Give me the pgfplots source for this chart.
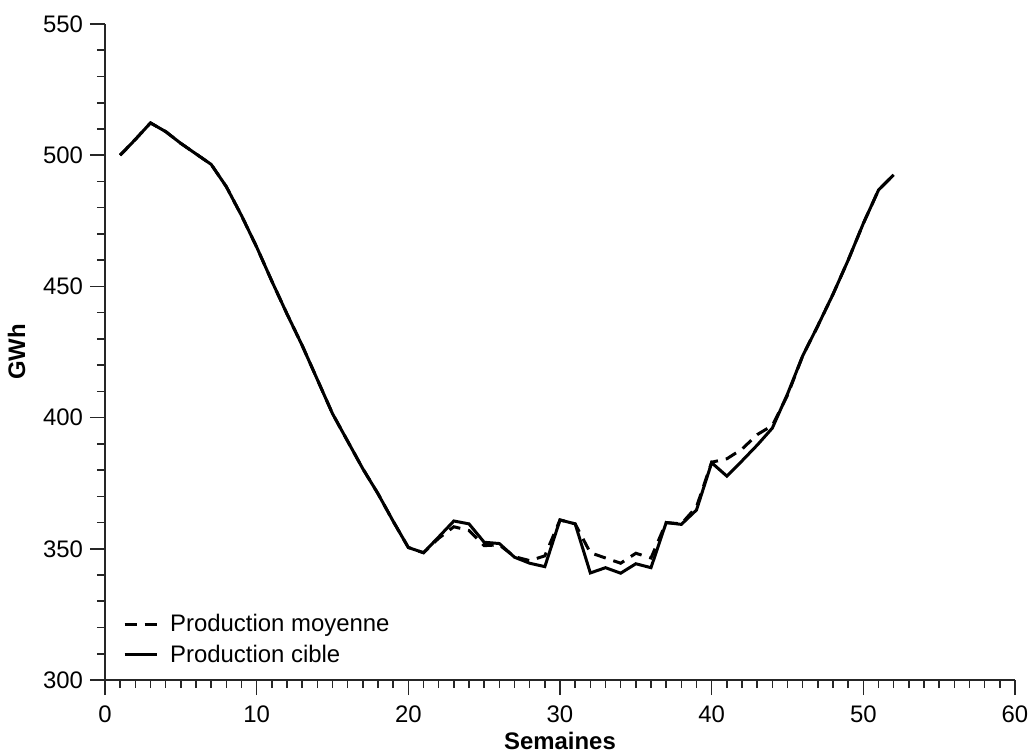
\documentclass[border=0pt]{standalone}
\usepackage{fontspec}
\setmainfont{Liberation Sans}
\usepackage{pgfplots}
\pgfplotsset{compat=1.18}
\usepackage{pgfplotstable}

% Weekly production (GWh): target and mean
\pgfplotstableread{
semaine cible moyenne
1  500.0 500.0
2  506.0 506.0
3  512.3 512.3
4  509.0 509.0
5  504.5 504.5
6  500.5 500.5
7  496.5 496.5
8  488.0 488.0
9  477.0 477.0
10 465.0 465.0
11 452.0 452.0
12 439.5 439.5
13 427.5 427.5
14 414.5 414.5
15 401.5 401.5
16 391.0 391.0
17 380.5 380.5
18 371.0 371.0
19 360.5 360.5
20 350.5 350.5
21 348.5 348.5
22 354.5 354.0
23 360.6 358.4
24 359.5 357.0
25 352.5 351.2
26 352.0 351.5
27 346.8 347.0
28 344.5 345.5
29 343.2 347.3
30 361.0 361.0
31 359.5 359.5
32 340.8 348.5
33 342.8 346.5
34 340.7 344.5
35 344.3 348.3
36 342.8 346.5
37 360.0 360.0
38 359.3 359.5
39 364.8 366.0
40 382.8 383.0
41 377.7 384.3
42 383.5 388.0
43 389.5 393.5
44 396.0 397.0
45 409.0 408.5
46 423.5 423.5
47 435.0 435.0
48 447.0 447.0
49 460.0 460.0
50 474.0 474.0
51 486.7 486.7
52 492.5 492.5
}\prod

\begin{document}
\begin{tikzpicture}
\useasboundingbox (-52.5bp,-36.5bp) rectangle (463bp,340bp);
\begin{axis}[
  scale only axis,
  width=455bp, height=328bp,
  xmin=0, xmax=60, ymin=300, ymax=550,
  axis x line=bottom, axis y line=left,
  axis line style={-, line width=1bp, black!85},
  xtick distance=10, ytick distance=50,
  minor x tick num=9, minor y tick num=4,
  tick align=outside,
  major tick length=7.5bp, minor tick length=4bp,
  every tick/.style={line width=0.8bp, black!85},
  /pgf/number format/assume math mode=true,
  tick label style={font=\fontsize{12}{14}\selectfont},
  xticklabel style={yshift=-2bp},
  xlabel={Semaines}, ylabel={GWh},
  label style={font=\bfseries\fontsize{12}{14}\selectfont},
  xlabel style={yshift=2bp},
  ylabel style={yshift=2bp},
  legend image code/.code={\draw[#1] (0bp,0bp) -- (16bp,0bp);},
  legend style={draw=none, fill=none, at={(0.013,0.01)}, anchor=south west,
    font=\fontsize{12}{14}\selectfont, row sep=1bp},
  legend cell align=left,
  clip=false,
]
\addplot[black, line width=1.5bp, dash pattern=on 6bp off 4bp] table[x=semaine, y=moyenne] {\prod};
\addlegendentry{\hspace{4bp}Production moyenne}
\addplot[black, line width=1.5bp] table[x=semaine, y=cible] {\prod};
\addlegendentry{\hspace{4bp}Production cible}
\end{axis}
\end{tikzpicture}
\end{document}
